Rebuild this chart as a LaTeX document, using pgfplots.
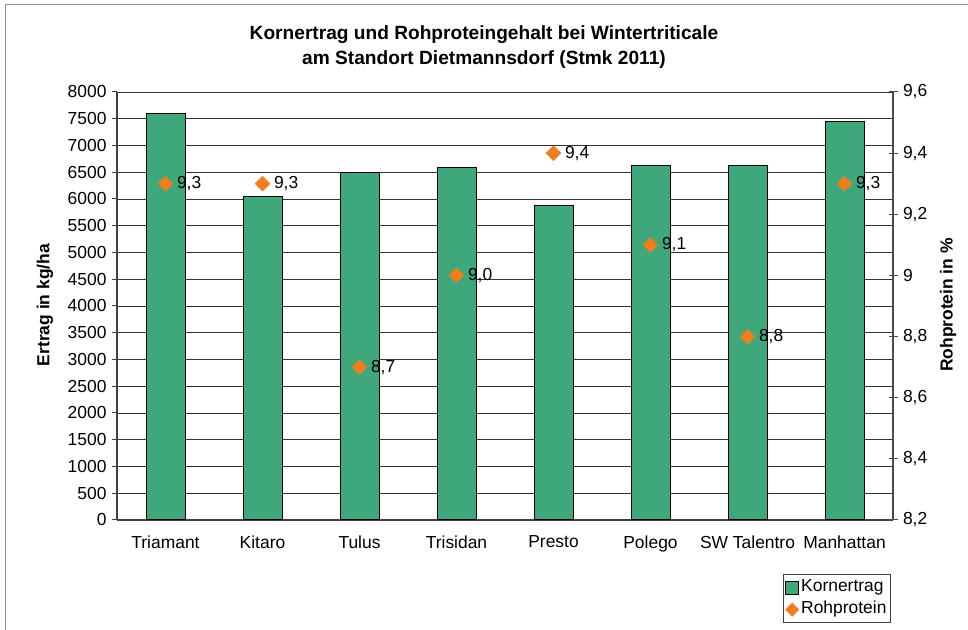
\documentclass[border=0pt]{standalone}
\usepackage{pgfplots}
\pgfplotsset{compat=1.18}
\usepackage{fontspec}
\setmainfont{Liberation Sans}
\definecolor{barg}{RGB}{62,168,124}
\definecolor{orng}{RGB}{240,125,30}
\newcommand{\tf}{\fontsize{17.5}{20}\selectfont}
\begin{document}
\begin{tikzpicture}[x=1bp,y=1bp]
\path[use as bounding box] (0,0) rectangle (968,630);
\draw[black!45, line width=1bp] (5,0) -- (5,625) -- (968,625);
\node[font=\bfseries\fontsize{19.2}{25}\selectfont, align=center] at (484,583) {Kornertrag und Rohproteingehalt bei Wintertriticale\\am Standort Dietmannsdorf (Stmk 2011)};
\node[font=\bfseries\tf, rotate=90] at (45,325) {Ertrag in kg/ha};
\node[font=\bfseries\tf, rotate=90] at (948,325) {Rohprotein in \%};
\begin{axis}[
  at={(117bp,110bp)}, anchor=south west, scale only axis,
  width=776bp, height=428bp,
  xmin=-0.5, xmax=7.5, ymin=0, ymax=8000,
  axis x line*=bottom, axis y line*=left,
  axis line style={black!75, line width=1.2bp},
  xtick={0,...,7},
  xticklabels={Triamant,Kitaro,Tulus,Trisidan,Presto,Polego,SW Talentro,Manhattan},
  x tick label style={font=\tf, yshift=-7bp},
  major x tick style={draw=none},
  extra x ticks={-0.5,0.5,...,7.5},
  extra x tick labels={},
  extra x tick style={tick align=outside, major tick length=6bp, tick style={black!75, line width=1bp}, grid=none},
  ytick distance=500,
  y tick label style={font=\tf, /pgf/number format/assume math mode=true, /pgf/number format/1000 sep={}, xshift=-2bp},
  tick align=outside, major tick length=5bp,
  y tick style={black!75, line width=1bp},
  ymajorgrids, grid style={black!80, line width=0.8bp},
]
\addplot[ybar, bar width=39bp, fill=barg, draw=black, line width=1bp] coordinates {
(0,7600) (1,6050) (2,6490) (3,6590) (4,5870) (5,6630) (6,6630) (7,7445)};
\end{axis}
\begin{axis}[
  at={(117bp,110bp)}, anchor=south west, scale only axis,
  width=776bp, height=428bp,
  xmin=-0.5, xmax=7.5, ymin=8.2, ymax=9.6,
  axis x line=none, axis y line*=right,
  axis line style={black!70, line width=1.2bp},
  ytick={8.2,8.4,8.6,8.8,9.0,9.2,9.4,9.6},
  yticklabels={{8,2},{8,4},{8,6},{8,8},9,{9,2},{9,4},{9,6}},
  y tick label style={font=\tf, xshift=2bp},
  ytick style={black!70, line width=1bp},
  ytick align=center, major tick length=9bp,
  legend style={at={(0.858,-0.2407)}, anchor=south west, font=\fontsize{17.5}{20}\selectfont, draw=black!75, line width=0.8bp, inner xsep=2bp, inner ysep=2bp, cells={anchor=west}, nodes={text height=13bp, text depth=5bp}},
  legend image code/.code={\draw[#1] (0bp,-6.5bp) rectangle (13bp,6.5bp);},
]
\addlegendimage{fill=barg, draw=black, line width=1bp}
\addlegendentry{Kornertrag}
\addplot[only marks, mark=square*, mark size=5.3bp, mark options={rotate=45}, color=orng,
  nodes near coords, point meta=explicit symbolic,
  every node near coord/.style={anchor=west, xshift=8bp, font=\tf, text=black},
  legend image code/.code={\fill[orng] (0bp,0) -- (6.5bp,6.5bp)--(13bp,0)--(6.5bp,-6.5bp)--cycle;}
] coordinates {
(0,9.3) [9,3] (1,9.3) [9,3] (2,8.7) [8,7] (3,9.0) [9,0] (4,9.4) [9,4] (5,9.1) [9,1] (6,8.8) [8,8] (7,9.3) [9,3]};
\addlegendentry{Rohprotein}
\end{axis}
\end{tikzpicture}
\end{document}
